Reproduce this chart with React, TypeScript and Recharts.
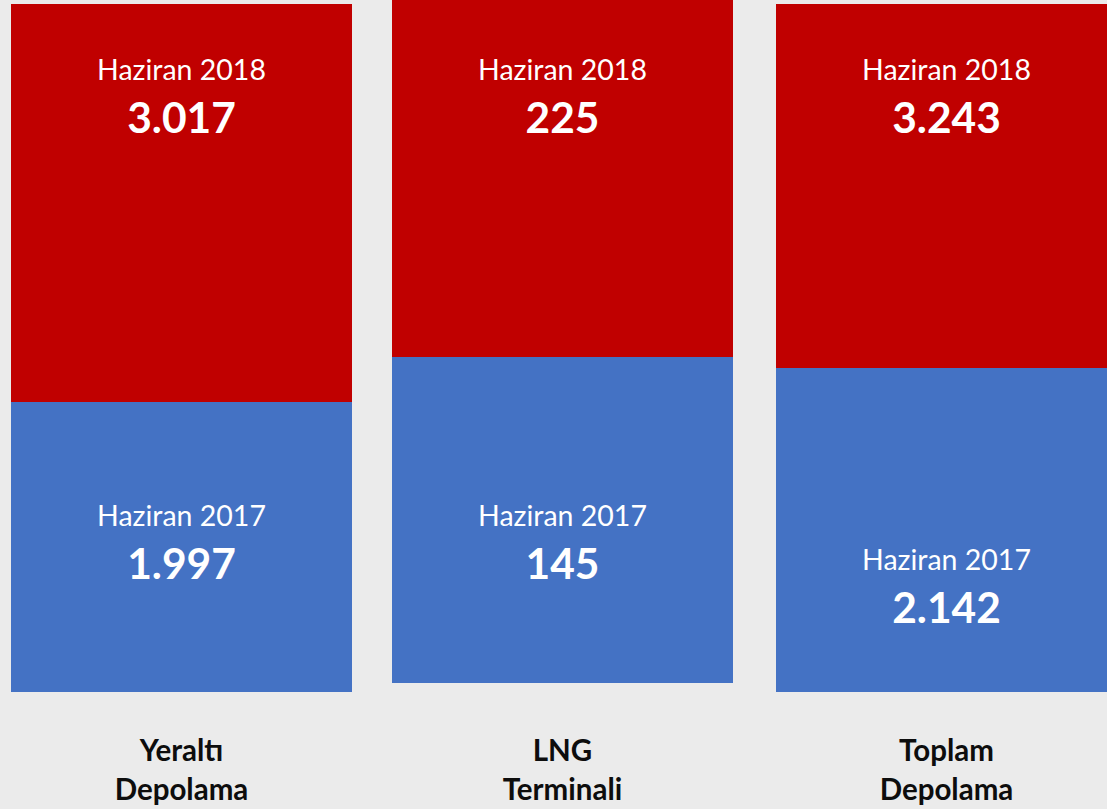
import React from 'react'
import { BarChart, Bar, XAxis, YAxis, LabelList } from 'recharts'

const categories = ['Yeraltı Depolama', 'LNG Terminali', 'Toplam Depolama']
const seriesNames = ['Haziran 2017', 'Haziran 2018']
const june2017 = [1997, 145, 2142]
const june2018 = [3017, 225, 3243]

// per panel layout: every group has its own scale
const panels = [
    { left: 11, top: 4, axisHeight: 117, axisMin: 1254, prevDy: 124 },
    { left: 392, top: 0, axisHeight: 126, axisMin: 72, prevDy: 169 },
    { left: 776, top: 4, axisHeight: 117, axisMin: 1162, prevDy: 202 },
]

const PANEL_W = 341
const PANEL_H = 809
const FONT = 'Lato, "Open Sans", sans-serif'

const formatTr = (v: number) => String(v).replace(/\B(?=(\d{3})+(?!\d))/g, '.')

function makeLabel(title: string, dy: number) {
    return (props: any) => {
        const cx = Number(props.x) + Number(props.width) / 2
        const top = Number(props.y)
        return (
            <g>
                <text x={cx} y={top + dy} textAnchor="middle" fill="#ffffff" fontSize={28.5} fontFamily={FONT}>
                    {title}
                </text>
                <text x={cx} y={top + dy + 53} textAnchor="middle" fill="#ffffff" fontSize={42.5} fontWeight={700} fontFamily={FONT}>
                    {formatTr(Number(props.value))}
                </text>
            </g>
        )
    }
}

function CategoryTick(props: any) {
    const { x, y, payload, offset } = props
    const words = String(payload.value).split(' ')
    return (
        <g>
            {words.map((w: string, i: number) => (
                <text key={i} x={x} y={y + offset + i * 39} textAnchor="middle" fill="#0d0d0d" fontSize={29.5} fontWeight={700} fontFamily={FONT}>
                    {w}
                </text>
            ))}
        </g>
    )
}

function Panel({ index }: { index: number }) {
    const p = panels[index]
    const data = [{ name: categories[index], prev: june2017[index], curr: june2018[index] }]
    const plotBottom = PANEL_H - p.axisHeight
    return (
        <div style={{ position: 'absolute', left: p.left, top: 0 }}>
            <BarChart width={PANEL_W} height={PANEL_H} data={data} margin={{ top: p.top, right: 0, bottom: 0, left: 0 }} barCategoryGap={0} barGap="-100%">
                <XAxis
                    dataKey="name"
                    height={p.axisHeight}
                    axisLine={false}
                    tickLine={false}
                    interval={0}
                    tick={<CategoryTick offset={761 - plotBottom - 8} />}
                />
                <YAxis hide domain={[p.axisMin, 'dataMax']} allowDataOverflow />
                <Bar dataKey="curr" fill="#c00000" isAnimationActive={false}>
                    <LabelList dataKey="curr" content={makeLabel(seriesNames[1], 76 + (4 - p.top))} />
                </Bar>
                <Bar dataKey="prev" fill="#4472c4" isAnimationActive={false}>
                    <LabelList dataKey="prev" content={makeLabel(seriesNames[0], p.prevDy)} />
                </Bar>
            </BarChart>
        </div>
    )
}

export default function App() {
    return (
        <div style={{ position: 'fixed', left: 0, top: 0, width: 1107, height: 809, background: '#ebebeb', overflow: 'hidden' }}>
            {categories.map((_, i) => (
                <Panel key={i} index={i} />
            ))}
        </div>
    )
}
